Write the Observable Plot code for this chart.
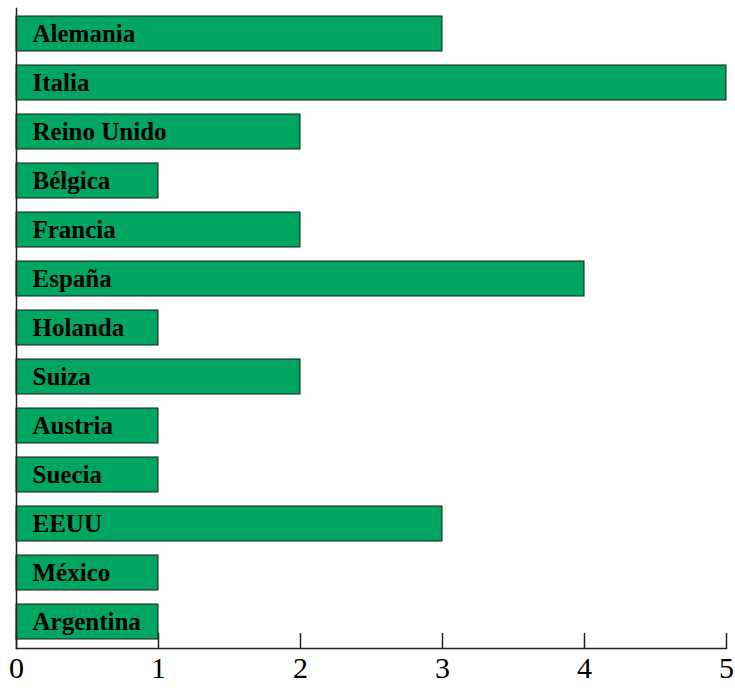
<!DOCTYPE html>
<html><head><meta charset="utf-8">
<script src="https://cdn.jsdelivr.net/npm/d3@7"></script>
<script src="https://cdn.jsdelivr.net/npm/@observablehq/plot@0.6"></script>
<style>body{margin:0;background:#fff}</style>
</head><body><div id="chart"></div>
<script>
const countries = ["Alemania","Italia","Reino Unido","Bélgica","Francia","España","Holanda","Suiza","Austria","Suecia","EEUU","México","Argentina"];
const values = [3,5,2,1,2,4,1,2,1,1,3,1,1];
const xTicks = [0,1,2,3,4,5];
const data = countries.map((c,i)=>({country:c, value:values[i]}));
const chart = Plot.plot({
  width: 735, height: 688,
  marginLeft: 16, marginRight: 9, marginTop: 8, marginBottom: 40,
  style: {fontFamily: "'Liberation Serif', 'Times New Roman', serif", background: "#fff"},
  x: {domain: [0,5], ticks: xTicks, label: null},
  y: {domain: countries, paddingInner: 0.28, paddingOuter: 0.12, axis: null},
  marks: [
    Plot.barX(data, {x: "value", y: "country", fill: "#00A562", stroke: "#1a1a1a", strokeWidth: 1}),
    Plot.text(data, {x: 0, y: "country", text: "country", textAnchor: "start", dx: 16, fontSize: 25, fontWeight: "bold", fill: "#000"}),
    Plot.tickX(xTicks, {x: d=>d, insetTop: 625, stroke: "#222", strokeWidth: 1.5}),
    Plot.frame({anchor: "left", stroke: "#222", strokeWidth: 1.5}),
    Plot.frame({anchor: "bottom", stroke: "#222", strokeWidth: 1.5}),
    Plot.axisX({ticks: xTicks, tickSize: 0, tickPadding: 8, fontSize: 30, tickFormat: d=>String(d), fill: "#000", label: null})
  ]
});
document.getElementById("chart").appendChild(chart);
</script></body></html>
